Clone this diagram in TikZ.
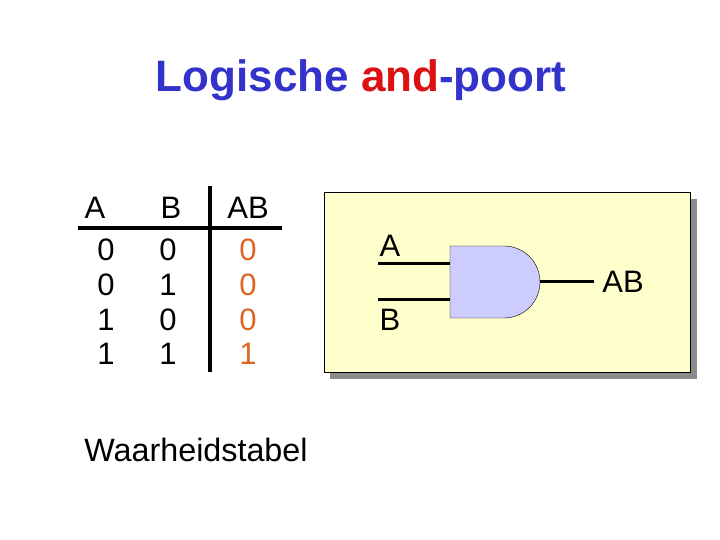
\documentclass[tikz,border=0pt]{standalone}
\usepackage{fontspec}
\setmainfont{Liberation Sans}
\usetikzlibrary{shapes.gates.logic.US, calc}
\usepackage{xcolor}
\definecolor{titleblue}{RGB}{51,51,204}
\definecolor{andred}{RGB}{221,17,17}
\definecolor{outorange}{RGB}{221,102,34}
\definecolor{panelyellow}{RGB}{255,255,204}
\definecolor{gateblue}{RGB}{204,204,255}

\begin{document}
\begin{tikzpicture}[
  x=1pt, y=1pt,
  every node/.style={inner sep=0pt, outer sep=0pt, text centered,
    font=\fontsize{31}{34}\selectfont},
  cell/.style={anchor=center, text height=22pt, text depth=0pt},
  outcell/.style={cell, text=outorange},
  rule/.style={draw, line width=3.4pt},
  wire/.style={draw, line width=3pt},
  andgate/.style={and gate US, draw, thin, logic gate inputs=nn, fill=gateblue,
    minimum width=90pt, minimum height=72pt, anchor=west},
]
\useasboundingbox (0,0) rectangle (720,540);

\node[font=\fontsize{44}{48}\selectfont\bfseries, text=titleblue] (title) at (361,460)
  {Logische \textcolor{andred}{and}-poort};

% truth table
\node[cell] (headA) at (95,332) {A};
\node[cell] (headB) at (171,332) {B};
\node[cell] (headAB) at (248,332) {AB};
\coordinate (ruleL) at (78,312);
\coordinate (ruleR) at (282,312);
\coordinate (ruleT) at (210,354);
\coordinate (ruleB) at (210,168);
\draw[rule] (ruleL) -- (ruleR);
\draw[rule] (ruleT) -- (ruleB);

\foreach \rownum/\rowy/\valA/\valB/\valOut in {1/290/0/0/0, 2/255/0/1/0, 3/220/1/0/0, 4/186/1/1/1} {
  \node[cell] (a\rownum) at (106,\rowy) {\valA};
  \node[cell] (b\rownum) at (168,\rowy) {\valB};
  \node[outcell] (out\rownum) at (248,\rowy) {\valOut};
}

\node[font=\fontsize{32.3}{35}\selectfont] (caption) at (196,90) {Waarheidstabel};

% gate panel
\fill[black!45] (330,161) rectangle (697,341);
\draw[fill=panelyellow] (324,168) rectangle (690.5,347.5);

\node[andgate] (gate) at (450,258) {};
\node[cell] (labelA) at (390,294) {A};
\node[cell] (labelB) at (390,220) {B};
\node[cell] (labelAB) at (623,258) {AB};
\coordinate (inA) at (378,276);
\coordinate (inB) at (378,240);
\coordinate (outEnd) at (594,258);
\draw[wire] (inA) -- (inA -| gate.west);
\draw[wire] (inB) -- (inB -| gate.west);
\draw[wire] (gate.east) -- (outEnd);

\end{tikzpicture}
\end{document}
